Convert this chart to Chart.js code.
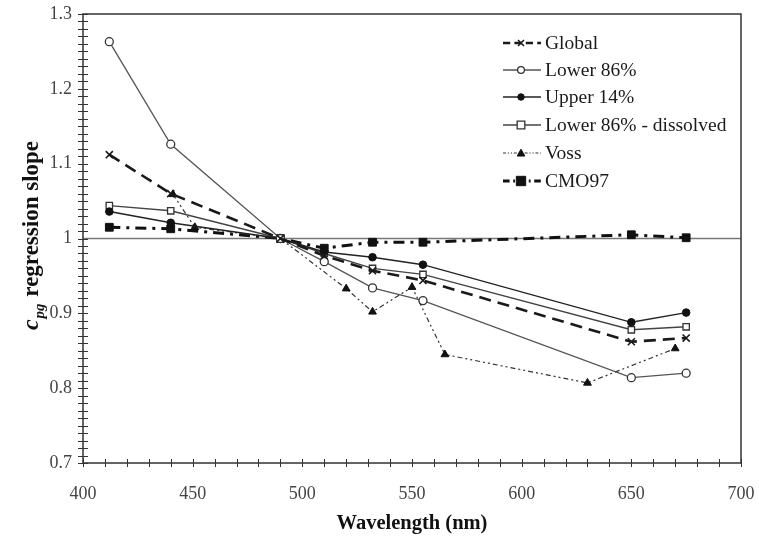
<!DOCTYPE html>
<html>
<head>
<meta charset="utf-8">
<script src="https://cdn.jsdelivr.net/npm/chart.js@4.4.1/dist/chart.umd.min.js"></script>
<style>
    html, body { margin: 0; padding: 0; background: #fff; }
    #wrap { width: 759px; height: 544px; position: relative; }
</style>
</head>
<body>
<div id="wrap"><canvas id="slopeChart" width="759" height="544"></canvas></div>
<script>
    // ===== DATA =====
    const bandWl = [412, 440, 490, 510, 532, 555, 650, 675];
    const globalSlope = [1.112, 1.060, 1.0, 0.977, 0.957, 0.944, 0.862, 0.867];
    const lower86Slope = [1.263, 1.126, 1.0, 0.969, 0.934, 0.917, 0.814, 0.820];
    const upper14Slope = [1.036, 1.021, 1.0, 0.982, 0.975, 0.965, 0.888, 0.901];
    const dissolvedSlope = [1.044, 1.037, 1.0, 0.980, 0.960, 0.952, 0.878, 0.882];
    const cmo97Slope = [1.015, 1.013, 1.0, 0.987, 0.995, 0.995, 1.005, 1.001];
    const vossWl = [441, 451, 490, 520, 532, 550, 565, 630, 670];
    const vossSlope = [1.059, 1.015, 1.0, 0.933, 0.902, 0.935, 0.845, 0.807, 0.853];
    const refWl = [400, 700];
    const refSlope = [1, 1];

    const legendLabels = ['Global', 'Lower 86%', 'Upper 14%', 'Lower 86% - dissolved', 'Voss', 'CMO97'];

    function pairs(xs, ys) {
        return xs.map((x, i) => ({ x: x, y: ys[i] }));
    }

    const serif = '"Liberation Serif", "DejaVu Serif", serif';

    // ===== SERIES =====
    const series = [
        { data: pairs(bandWl, globalSlope), borderColor: '#1a1a1a', borderWidth: 2.6, borderDash: [12, 7],
          pointStyle: 'crossRot', pointRadius: 5, pointBorderWidth: 1.6, pointBackgroundColor: '#1a1a1a', pointBorderColor: '#1a1a1a' },
        { data: pairs(bandWl, lower86Slope), borderColor: '#555', borderWidth: 1.3, borderDash: [],
          pointStyle: 'circle', pointRadius: 4, pointBorderWidth: 1.3, pointBackgroundColor: '#fff', pointBorderColor: '#333' },
        { data: pairs(bandWl, upper14Slope), borderColor: '#222', borderWidth: 1.4, borderDash: [],
          pointStyle: 'circle', pointRadius: 3.8, pointBorderWidth: 1, pointBackgroundColor: '#111', pointBorderColor: '#111' },
        { data: pairs(bandWl, dissolvedSlope), borderColor: '#444', borderWidth: 1.4, borderDash: [],
          pointStyle: 'rect', pointRadius: 4.5, pointBorderWidth: 1.3, pointBackgroundColor: '#fff', pointBorderColor: '#333' },
        { data: pairs(vossWl, vossSlope), borderColor: '#333', borderWidth: 1.2, borderDash: [5, 3, 2, 3, 2, 3],
          pointStyle: 'triangle', pointRadius: 4.5, pointBorderWidth: 1, pointBackgroundColor: '#111', pointBorderColor: '#111' },
        { data: pairs(bandWl, cmo97Slope), borderColor: '#111', borderWidth: 3, borderDash: [11, 6, 3, 6],
          pointStyle: 'rect', pointRadius: 5.5, pointBorderWidth: 1, pointBackgroundColor: '#111', pointBorderColor: '#111' }
    ];

    const datasets = series.map((s, i) => Object.assign({
        label: legendLabels[i],
        showLine: true,
        fill: false,
        tension: 0
    }, s));

    // horizontal reference at slope = 1
    datasets.push({
        label: 'ref',
        data: pairs(refWl, refSlope),
        showLine: true,
        borderColor: '#777',
        borderWidth: 1.4,
        pointRadius: 0,
        order: 10
    });

    // ===== PLUGINS =====
    const frameAndTicks = {
        id: 'frameAndTicks',
        afterDraw(chart) {
            const ctx = chart.ctx;
            const area = chart.chartArea;
            const xs = chart.scales.x;
            const ys = chart.scales.y;
            ctx.save();
            ctx.strokeStyle = '#333';
            ctx.lineWidth = 1.5;
            ctx.strokeRect(area.left, area.top, area.right - area.left, area.bottom - area.top);
            ctx.lineWidth = 1;
            ctx.beginPath();
            xs.ticks.forEach(t => {
                const px = Math.round(xs.getPixelForValue(t.value)) + 0.5;
                ctx.moveTo(px, area.bottom - 4);
                ctx.lineTo(px, area.bottom + 4);
            });
            ys.ticks.forEach(t => {
                const py = Math.round(ys.getPixelForValue(t.value)) + 0.5;
                ctx.moveTo(area.left - 5, py);
                ctx.lineTo(area.left + 5, py);
            });
            ctx.stroke();
            ctx.restore();
        }
    };

    const yTitle = {
        id: 'yTitle',
        afterDraw(chart) {
            const ctx = chart.ctx;
            const area = chart.chartArea;
            const cy = (area.top + area.bottom) / 2 - 3;
            const mainFont = 'bold 23px ' + serif;
            const cFont = 'bold italic 24px ' + serif;
            const subFont = 'bold italic 15px ' + serif;
            const rest = ' regression slope';
            ctx.save();
            ctx.translate(30, cy);
            ctx.rotate(-Math.PI / 2);
            ctx.fillStyle = '#111';
            ctx.textBaseline = 'alphabetic';
            ctx.font = cFont;
            const wc = ctx.measureText('c').width;
            ctx.font = subFont;
            const ws = ctx.measureText('pg').width;
            ctx.font = mainFont;
            const wr = ctx.measureText(rest).width;
            let x = -(wc + ws + 2 + wr) / 2;
            const base = 8;
            ctx.font = cFont;
            ctx.fillText('c', x, base);
            x += wc + 1;
            ctx.font = subFont;
            ctx.fillText('pg', x, base + 6);
            x += ws + 1;
            ctx.font = mainFont;
            ctx.fillText(rest, x, base);
            ctx.restore();
        }
    };

    const lineLegend = {
        id: 'lineLegend',
        afterDraw(chart) {
            const ctx = chart.ctx;
            const rowY = [43, 70, 97, 125, 153, 181];
            ctx.save();
            series.forEach((s, i) => {
                const y = rowY[i];
                ctx.strokeStyle = s.borderColor;
                ctx.lineWidth = s.borderWidth;
                ctx.setLineDash(s.borderDash.length ? s.borderDash.map(d => d * 0.6) : []);
                ctx.beginPath();
                ctx.moveTo(503, y);
                ctx.lineTo(541, y);
                ctx.stroke();
                ctx.setLineDash([]);
                ctx.fillStyle = s.pointBackgroundColor;
                ctx.strokeStyle = s.pointBorderColor;
                ctx.lineWidth = s.pointBorderWidth;
                drawMarker(ctx, s.pointStyle, 521, y, s.pointRadius * 0.85);
                ctx.fillStyle = '#1a1a1a';
                ctx.font = '19.5px ' + serif;
                ctx.textBaseline = 'middle';
                ctx.fillText(legendLabels[i], 545, y + 1);
            });
            ctx.restore();
        }
    };

    function drawMarker(ctx, style, x, y, r) {
        ctx.beginPath();
        if (style === 'circle') {
            ctx.arc(x, y, r, 0, Math.PI * 2);
            ctx.fill();
            ctx.stroke();
        } else if (style === 'rect') {
            ctx.rect(x - r, y - r, r * 2, r * 2);
            ctx.fill();
            ctx.stroke();
        } else if (style === 'triangle') {
            ctx.moveTo(x, y - r);
            ctx.lineTo(x + r, y + r * 0.8);
            ctx.lineTo(x - r, y + r * 0.8);
            ctx.closePath();
            ctx.fill();
            ctx.stroke();
        } else if (style === 'crossRot') {
            ctx.moveTo(x - r * 0.7, y - r * 0.7);
            ctx.lineTo(x + r * 0.7, y + r * 0.7);
            ctx.moveTo(x + r * 0.7, y - r * 0.7);
            ctx.lineTo(x - r * 0.7, y + r * 0.7);
            ctx.stroke();
        }
    }

    // ===== CHART =====
    new Chart(document.getElementById('slopeChart'), {
        type: 'scatter',
        data: { datasets: datasets },
        options: {
            responsive: false,
            animation: false,
            layout: { padding: { top: 14, right: 18, left: 0, bottom: 0 } },
            plugins: {
                legend: { display: false },
                tooltip: { enabled: false }
            },
            scales: {
                x: {
                    type: 'linear',
                    min: 400,
                    max: 700,
                    border: { display: false },
                    grid: { display: false, drawTicks: false },
                    ticks: {
                        stepSize: 10,
                        autoSkip: false,
                        maxRotation: 0,
                        padding: 20,
                        color: '#444',
                        font: { family: serif, size: 18 },
                        callback: v => (v % 50 === 0 ? String(v) : '')
                    },
                    title: {
                        display: true,
                        text: 'Wavelength (nm)',
                        color: '#111',
                        font: { family: serif, size: 20.5, weight: 'bold' },
                        padding: { top: 8, bottom: 8 }
                    },
                    afterFit(scale) {
                        scale.height = 81;
                        scale.paddingLeft = 0;
                        scale.paddingRight = 0;
                    }
                },
                y: {
                    type: 'linear',
                    min: 0.7,
                    max: 1.3,
                    border: { display: false },
                    grid: { display: false, drawTicks: false },
                    ticks: {
                        stepSize: 0.01,
                        autoSkip: false,
                        padding: 11,
                        color: '#444',
                        font: { family: serif, size: 18 },
                        callback: v => {
                            const t = v * 10;
                            return Math.abs(t - Math.round(t)) < 1e-6 ? String(Math.round(t) / 10) : '';
                        }
                    },
                    afterFit(scale) {
                        scale.width = 83;
                        scale.paddingTop = 0;
                        scale.paddingBottom = 0;
                    }
                }
            }
        },
        plugins: [frameAndTicks, yTitle, lineLegend]
    });
</script>
</body>
</html>
